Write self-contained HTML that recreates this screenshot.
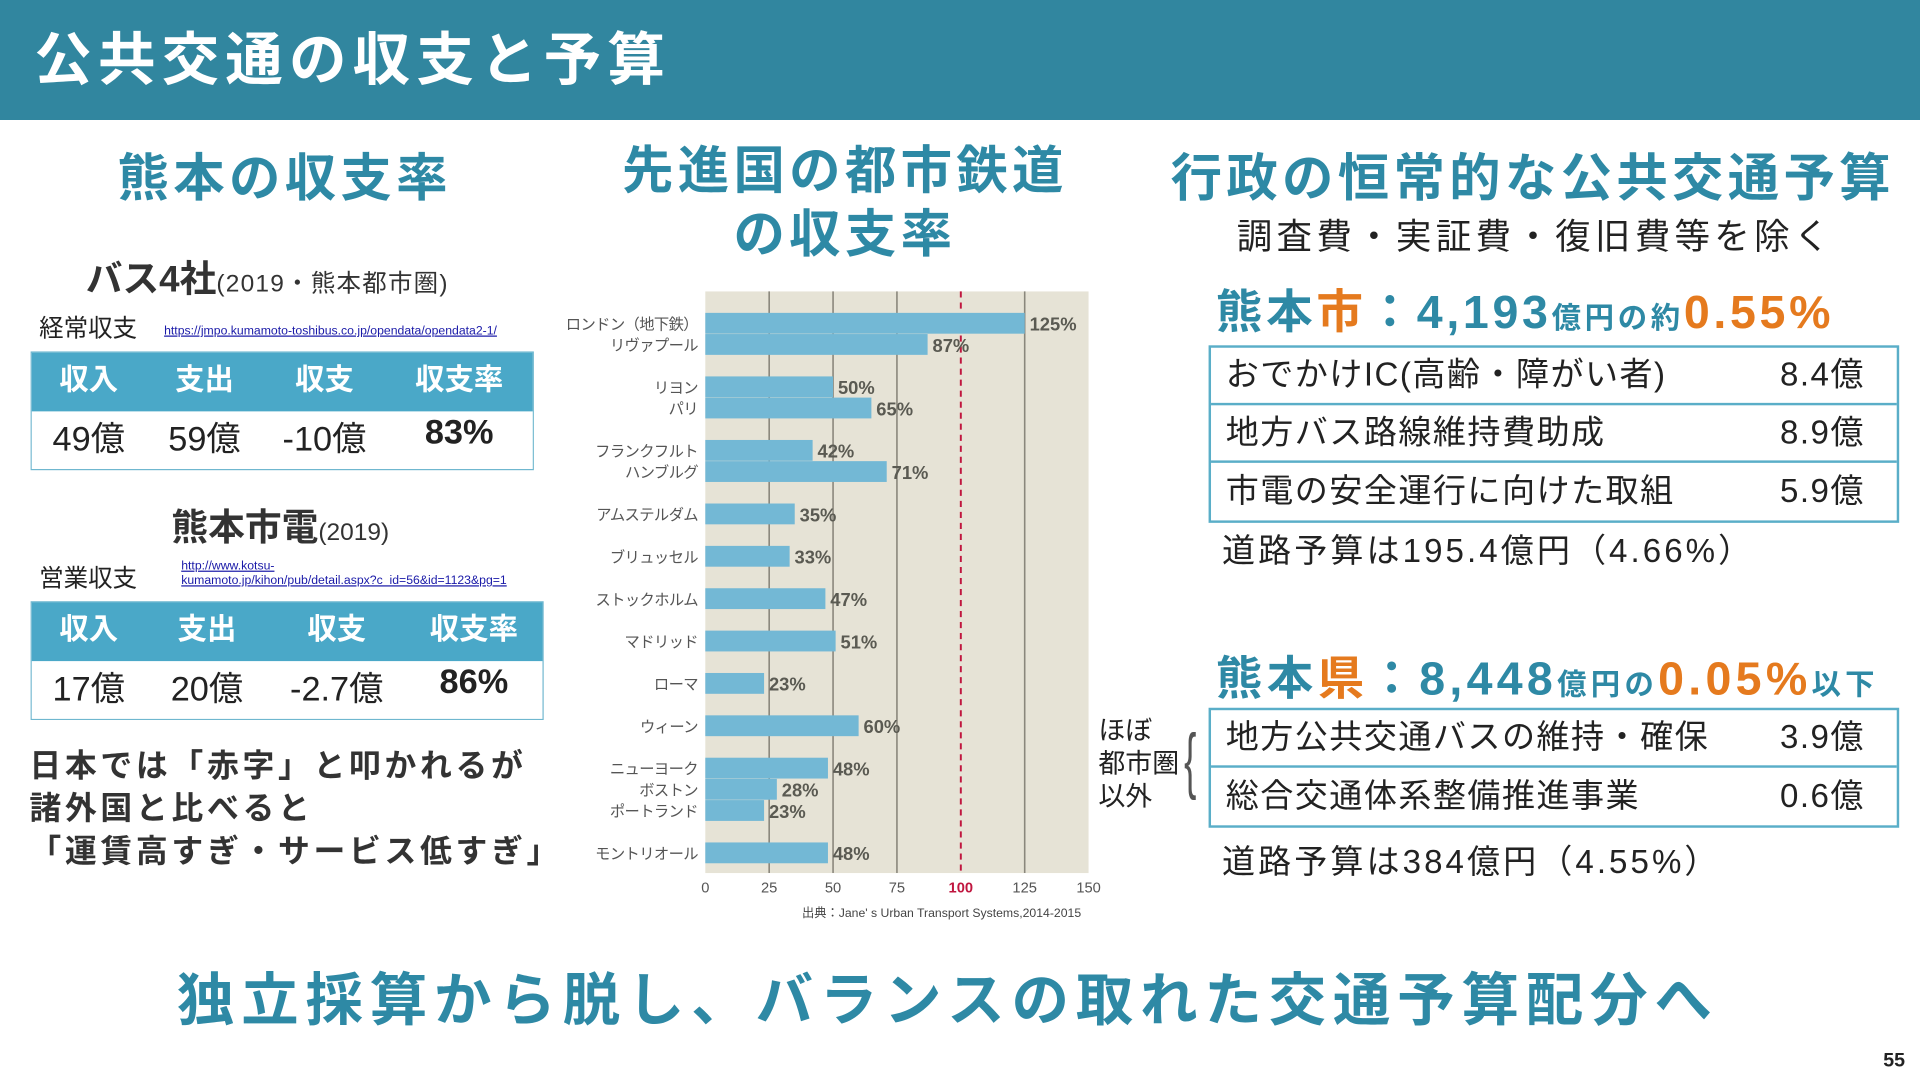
<!DOCTYPE html>
<html><head><meta charset="utf-8">
<style>
html,body{margin:0;padding:0;width:1920px;height:1080px;overflow:hidden;background:#fff}
#s{position:absolute;left:0;top:0;width:1568px;height:882px;transform:scale(1.22449);transform-origin:0 0;font-family:"Liberation Sans","Noto Sans CJK JP",sans-serif;color:#222}
.a{position:absolute;white-space:nowrap}
.h{color:#2e89a5;font-weight:bold;letter-spacing:3.5px}
.tb{position:absolute;border:1.5px solid #6fb7cf;box-sizing:border-box}
.tb .hd{display:flex;background:#4aa8c8;color:#fff;font-weight:bold;font-size:24px;height:48px;align-items:flex-start;padding-top:2px;box-sizing:border-box}
.tb .bd{display:flex;font-size:28px;height:47px;align-items:flex-start;padding-top:1px;box-sizing:border-box;background:#fff}
.tb div div{text-align:center}
.rt{position:absolute;left:987px;width:564px;border:2px solid #5aaec8;box-sizing:border-box}
.rt .r{display:flex;justify-content:space-between;height:47px;align-items:center;font-size:27px;padding:0 26px 0 12px;border-bottom:2px solid #5aaec8;box-sizing:border-box;letter-spacing:1.2px}
.rt .r span{margin-top:-6px}
.rt .r:last-child{border-bottom:none}
.o{color:#e57a1e}
</style></head><body>
<div id="s">
<div class="a" style="left:0;top:0;width:1568px;height:98px;background:#31869f"></div>
<div class="a" style="left:28px;top:10px;font-size:47px;font-weight:bold;color:#fff;letter-spacing:5px">公共交通の収支と予算</div>

<div class="a h" style="left:96px;top:112px;font-size:42px">熊本の収支率</div>
<div class="a" style="left:70px;top:203px;font-size:30px;font-weight:bold;color:#333">バス4社<span style="font-size:20px;font-weight:normal;letter-spacing:1px">(2019・熊本都市圏)</span></div>
<div class="a" style="left:32px;top:252px;font-size:20px">経常収支</div>
<div class="a" style="left:134px;top:265px;font-size:10px;color:#1a1aa8;text-decoration:underline">https://jmpo.kumamoto-toshibus.co.jp/opendata/opendata2-1/</div>
<div class="tb" style="left:25px;top:287px;width:411px">
 <div class="hd"><div style="width:93px">収入</div><div style="width:96px">支出</div><div style="width:100px">収支</div><div style="width:120px">収支率</div></div>
 <div class="bd"><div style="width:93px">49億</div><div style="width:96px">59億</div><div style="width:100px">-10億</div><div style="width:120px;font-weight:bold">83%</div></div>
</div>
<div class="a" style="left:140px;top:406px;font-size:30px;font-weight:bold;color:#333">熊本市電<span style="font-size:20px;font-weight:normal">(2019)</span></div>
<div class="a" style="left:32px;top:456px;font-size:20px">営業収支</div>
<div class="a" style="left:148px;top:457px;font-size:10px;line-height:12px;color:#1a1aa8;text-decoration:underline">http://www.kotsu-<br>kumamoto.jp/kihon/pub/detail.aspx?c_id=56&amp;id=1123&amp;pg=1</div>
<div class="tb" style="left:25px;top:491px;width:419px">
 <div class="hd"><div style="width:93px">収入</div><div style="width:100px">支出</div><div style="width:112px">収支</div><div style="width:112px">収支率</div></div>
 <div class="bd"><div style="width:93px">17億</div><div style="width:100px">20億</div><div style="width:112px">-2.7億</div><div style="width:112px;font-weight:bold">86%</div></div>
</div>
<div class="a" style="left:24px;top:608px;font-size:26px;font-weight:bold;line-height:35px;color:#333;letter-spacing:3px">日本では「赤字」と叩かれるが<br>諸外国と比べると<br>「運賃高すぎ・サービス低すぎ」</div>

<div class="a h" style="left:490px;top:114px;width:400px;text-align:center;font-size:42px;line-height:52px">先進国の都市鉄道<br>の収支率</div>
<svg class="a" id="chart" style="left:0;top:0" width="1568" height="882"></svg>

<div class="a h" style="left:956px;top:112px;font-size:42px">行政の恒常的な公共交通予算</div>
<div class="a" style="left:1010px;top:170px;font-size:29px;letter-spacing:3.5px">調査費・実証費・復旧費等を除く</div>
<div class="a h" style="left:993px;top:224px;font-size:38px;letter-spacing:3px">熊本<span class="o">市</span>：4,193<span style="font-size:24px">億円の約</span><span class="o">0.55%</span></div>
<div class="rt" style="top:282px">
 <div class="r"><span>おでかけIC(高齢・障がい者)</span><span>8.4億</span></div>
 <div class="r"><span>地方バス路線維持費助成</span><span>8.9億</span></div>
 <div class="r"><span>市電の安全運行に向けた取組</span><span>5.9億</span></div>
</div>
<div class="a" style="left:998px;top:428px;font-size:27px;letter-spacing:2.5px">道路予算は195.4億円（4.66%）</div>
<div class="a h" style="left:993px;top:523px;font-size:38px;letter-spacing:3.5px">熊本<span class="o">県</span>：8,448<span style="font-size:24px">億円の</span><span class="o">0.05%</span><span style="font-size:24px">以下</span></div>
<div class="a" style="left:897px;top:583px;font-size:22px;line-height:27px">ほぼ<br>都市圏<br>以外</div>
<div class="a" style="left:962px;top:586px;font-size:60px;color:#555;transform:scaleX(.5)">{</div>
<div class="rt" style="top:578px">
 <div class="r"><span>地方公共交通バスの維持・確保</span><span>3.9億</span></div>
 <div class="r"><span>総合交通体系整備推進事業</span><span>0.6億</span></div>
</div>
<div class="a" style="left:998px;top:682px;font-size:27px;letter-spacing:2.5px">道路予算は384億円（4.55%）</div>

<div class="a h" style="left:0;top:778px;width:1568px;text-align:center;font-size:47px;letter-spacing:5.5px;padding-right:20px;box-sizing:border-box">独立採算から脱し、バランスの取れた交通予算配分へ</div>
<div class="a" style="left:1538px;top:858px;font-size:16px;font-weight:bold">55</div>
</div>
<script>
const cities=["ロンドン（地下鉄）","リヴァプール","リヨン","パリ","フランクフルト","ハンブルグ","アムステルダム","ブリュッセル","ストックホルム","マドリッド","ローマ","ウィーン","ニューヨーク","ボストン","ポートランド","モントリオール"];
const groups=[0,0,1,1,2,2,3,4,5,6,7,8,9,9,9,10];
const ratios=[125,87,50,65,42,71,35,33,47,51,23,60,48,28,23,48];
const ticks=[0,25,50,75,100,125,150];
const NS="http://www.w3.org/2000/svg";
const svg=document.getElementById('chart');
const X0=576,X1=889,T0=238,T1=713;
const x=v=>X0+(v-0)/150*(X1-X0);
const slots=[];let s=0;groups.forEach((g,i)=>{if(i>0)s+=(g===groups[i-1])?1:2;slots.push(s);});
const y=sl=>264+sl*17.3;
function el(t,a){const e=document.createElementNS(NS,t);for(const k in a)e.setAttribute(k,a[k]);svg.appendChild(e);return e;}
const bg=el('rect',{x:X0,y:T0,width:X1-X0,height:T1-T0,fill:'#e6e3d6'});


ticks.forEach(t=>{
 if(t>0&&t<150&&t!==100){const g=el('line',{x1:x(t),x2:x(t),y1:T0,y2:T1,stroke:'#8a877c','stroke-width':1.3});
 
 }
 const lb=el('text',{x:x(t),y:729,'font-size':12,'text-anchor':'middle',fill:t===100?'#c0163f':'#555','font-weight':t===100?'bold':'normal'});
 lb.textContent=t;
 
 
});
const rl=el('line',{x1:x(100),x2:x(100),y1:T0,y2:T1,stroke:'#c0163f','stroke-width':1.6,'stroke-dasharray':'5,4'});


cities.forEach((c,i)=>{
 const yc=y(slots[i]);
 const b=el('rect',{x:X0,y:yc-8.5,width:x(ratios[i])-X0,height:17,fill:'#73b8d5'});
 
 
 const l=el('text',{x:570,y:yc+5,'font-size':12.5,'text-anchor':'end',fill:'#555','letter-spacing':-0.5});
 l.textContent=c;
 
 
 const v=el('text',{x:x(ratios[i])+4,y:yc+6,'font-size':15,'font-weight':'bold',fill:'#5a5a52'});
 v.textContent=ratios[i]+'%';
 
 
});
const src=el('text',{x:655,y:749,'font-size':10,fill:'#444'});
src.textContent="出典：Jane' s Urban Transport Systems,2014-2015";


</script>
</body></html>
